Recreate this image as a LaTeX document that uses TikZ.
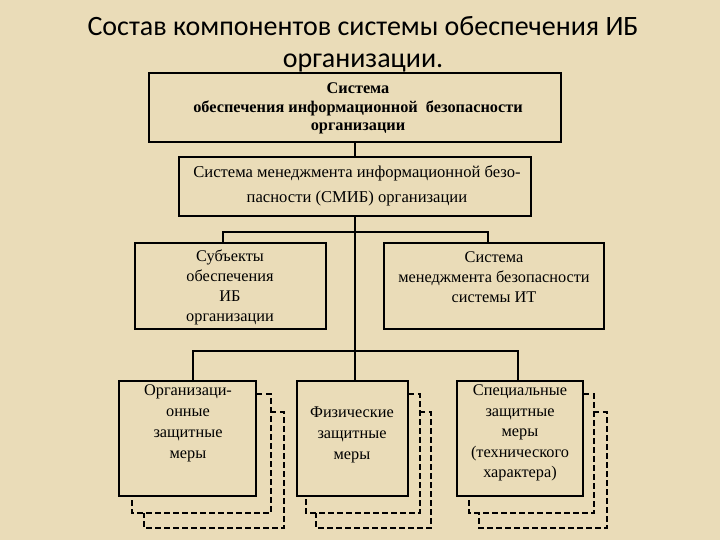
\documentclass[tikz,border=0pt]{standalone}
\usepackage{fontspec}
\setmainfont{Liberation Serif}
\newfontfamily\titlefont{Carlito}
\usetikzlibrary{calc}
\definecolor{parch}{RGB}{234,220,184}
\begin{document}
\begin{tikzpicture}[x=1pt,y=-1pt,
  boxnode/.style={draw=black,line width=1.9pt,rectangle,inner sep=0pt},
  txt/.style={align=center,inner sep=0pt,text=black},
  conn/.style={draw=black,line width=1.9pt},
  shadowline/.style={draw=black,line width=1.8pt,dash pattern=on 5.5pt off 3.5pt}]
\fill[parch] (0,0) rectangle (720,540);
\useasboundingbox (0,0) rectangle (720,540);

\node[txt,font=\titlefont\fontsize{28}{32}\selectfont] (title) at (363,44.5)
  {Состав компонентов системы обеспечения ИБ\\организации.};

% boxes
\node[boxnode,minimum width=412pt,minimum height=69pt] (b1) at (355,107.5) {};
\node[boxnode,minimum width=352pt,minimum height=59pt] (b2) at (355,186.5) {};
\node[boxnode,minimum width=191pt,minimum height=86pt] (b3) at (230.5,286) {};
\node[boxnode,minimum width=220pt,minimum height=86pt] (b4) at (494,286) {};
\node[boxnode,minimum width=137pt,minimum height=115pt] (b5) at (187.5,438.5) {};
\node[boxnode,minimum width=111pt,minimum height=115pt] (b6) at (352.5,438.5) {};
\node[boxnode,minimum width=126pt,minimum height=115pt] (b7) at (520,438.5) {};

% texts
\node[txt,font=\bfseries\fontsize{16.3}{18.5}\selectfont] (t1) at (358,108.5)
  {Система\\обеспечения информационной\ \ безопасности\\организации};
\node[txt,font=\fontsize{16.6}{25}\selectfont] (t2) at (357,185.5)
  {Система менеджмента информационной безо-\\пасности (СМИБ) организации};
\node[txt,font=\fontsize{16.3}{20}\selectfont] (t3) at (230,287.5)
  {Субъекты\\обеспечения\\ИБ\\организации};
\node[txt,font=\fontsize{16.3}{20}\selectfont] (t4) at (494,277.5)
  {Система\\менеджмента безопасности\\системы ИТ};
\node[txt,font=\fontsize{16.3}{21}\selectfont] (t5) at (188,423)
  {Организаци-\\онные\\защитные\\меры};
\node[txt,font=\fontsize{16.3}{21}\selectfont] (t6) at (352,435)
  {Физические\\защитные\\меры};
\node[txt,font=\fontsize{16.3}{20.5}\selectfont] (t7) at (520,433)
  {Специальные\\защитные\\меры\\(технического\\характера)};

% connectors
\draw[conn] (b1.south) -- (b2.north);
\draw[conn] (b2.south) -- (b2.south |- b6.north);
\draw[conn] ([xshift=-7.5pt]b3.north) -- ++(0,-10) -| ([xshift=-6pt]b4.north);
\draw[conn] ([xshift=5.5pt]b5.north) -- ++(0,-29) -| ([xshift=-2pt]b7.north);

% dashed shadows
\draw[shadowline] ($(b5.north east)+(0,14)$) -- ++(14,0) -- ($(b5.south east)+(14,16)$) -- ($(b5.south west)+(14,16)$) -- ($(b5.south west)+(14,0)$);
\draw[shadowline] ($(b5.north east)+(14,32)$) -- ++(13,0) -- ($(b5.south east)+(27,31)$) -- ($(b5.south west)+(26,31)$) -- ($(b5.south west)+(26,16)$);
\draw[shadowline] ($(b6.north east)+(0,14)$) -- ++(11,0) -- ($(b6.south east)+(11,16)$) -- ($(b6.south west)+(10,16)$) -- ($(b6.south west)+(10,0)$);
\draw[shadowline] ($(b6.north east)+(11,32)$) -- ++(11,0) -- ($(b6.south east)+(22,31)$) -- ($(b6.south west)+(20,31)$) -- ($(b6.south west)+(20,16)$);
\draw[shadowline] ($(b7.north east)+(0,14)$) -- ++(10,0) -- ($(b7.south east)+(10,16)$) -- ($(b7.south west)+(13,16)$) -- ($(b7.south west)+(13,0)$);
\draw[shadowline] ($(b7.north east)+(10,32)$) -- ++(13,0) -- ($(b7.south east)+(23,31)$) -- ($(b7.south west)+(23,31)$) -- ($(b7.south west)+(23,16)$);
\end{tikzpicture}
\end{document}
